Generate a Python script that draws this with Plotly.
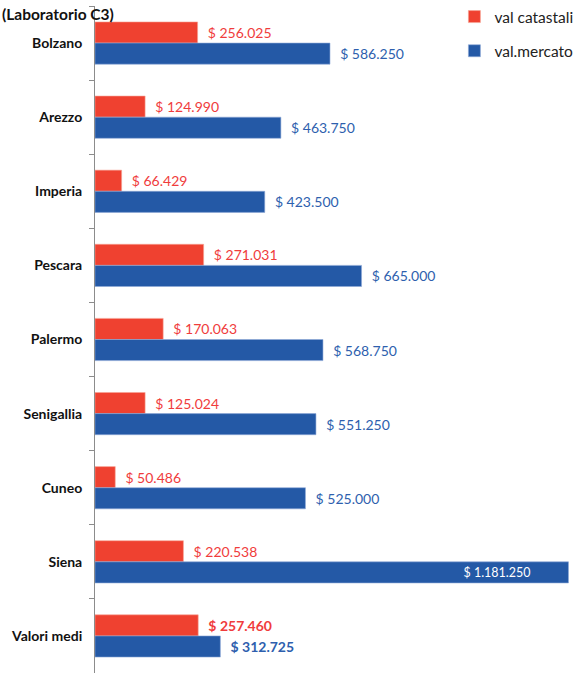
import plotly.graph_objects as go

# Dati per città (valori in euro, formato italiano nelle etichette)
citta = ["Bolzano", "Arezzo", "Imperia", "Pescara", "Palermo",
         "Senigallia", "Cuneo", "Siena", "Valori medi"]
val_catastali = [256025, 124990, 66429, 271031, 170063, 125024, 50486, 220538, 257460]
val_mercato = [586250, 463750, 423500, 665000, 568750, 551250, 525000, 1181250, 312725]

ROSSO = "#EF4130"
BLU = "#2459A6"
ROSSO_TXT = "#F03C3C"
BLU_TXT = "#2E5FAE"
FONT = "Lato, 'Open Sans', sans-serif"

PLOT_H = 669  # altezza dell'area del grafico in pixel


def fmt(v):
    return "$ " + f"{v:,}".replace(",", ".")


def etichette(vals):
    out = []
    for i, v in enumerate(vals):
        s = fmt(v)
        if citta[i] == "Valori medi":
            s = f"<b>{s}</b>"
        out.append(s)
    return out


lab_cat = ["\u00a0\u00a0" + s for s in etichette(val_catastali)]
lab_mer = []
pos_mer = []
for i, s in enumerate(etichette(val_mercato)):
    if val_mercato[i] > 1_000_000:
        lab_mer.append(s + "\u00a0" * 11)
        pos_mer.append("inside")
    else:
        lab_mer.append("\u00a0\u00a0" + s)
        pos_mer.append("outside")

fig = go.Figure()
fig.add_trace(go.Bar(
    y=citta, x=val_catastali, orientation="h", name="val catastali",
    marker=dict(color=ROSSO, line=dict(color="#F7A595", width=0.6)),
    text=lab_cat, textposition="outside", cliponaxis=False,
    outsidetextfont=dict(color=ROSSO_TXT, size=14, family=FONT),
    legendgroup="a",
))
fig.add_trace(go.Bar(
    y=citta, x=val_mercato, orientation="h", name="val.mercato",
    marker=dict(color=BLU, line=dict(color="#8FA9D6", width=0.6)),
    text=lab_mer, textposition=pos_mer, insidetextanchor="end", cliponaxis=False,
    outsidetextfont=dict(color=BLU_TXT, size=14, family=FONT),
    insidetextfont=dict(color="white", size=14, family=FONT),
    legendgroup="b",
))

fig.update_layout(
    width=580, height=673,
    margin=dict(l=95, r=4, t=4, b=0),
    paper_bgcolor="white", plot_bgcolor="white",
    barmode="group", bargap=0.43, bargroupgap=0,
    font=dict(family=FONT, color="#222222"),
    legend=dict(
        x=1.005, y=1 + 6 / PLOT_H, xref="paper", yref="paper",
        xanchor="right", yanchor="top",
        font=dict(size=15.5, color="#222222", family=FONT),
        bgcolor="rgba(0,0,0,0)", tracegroupgap=11, itemwidth=30,
        traceorder="grouped",
    ),
    xaxis=dict(range=[0, 1200000], showgrid=False, showticklabels=False,
               zeroline=False, showline=False, ticks=""),
    yaxis=dict(autorange="reversed", showline=True, linecolor="#8C8C8C", linewidth=1,
               ticks="outside", tickson="boundaries", ticklen=5, tickcolor="#8C8C8C",
               ticklabelstandoff=9,
               tickmode="array", tickvals=citta,
               ticktext=[f"<b>{c}</b>" for c in citta],
               tickfont=dict(size=14, color="#111111", family=FONT),
               showgrid=False),
    annotations=[dict(
        text="<b>(Laboratorio C3)</b>",
        x=-95 / 481, y=1 - 8 / PLOT_H, xref="paper", yref="paper",
        xanchor="left", yanchor="middle", showarrow=False,
        font=dict(size=15.5, color="#111111", family=FONT),
    )],
)

fig.write_html("out.html")
